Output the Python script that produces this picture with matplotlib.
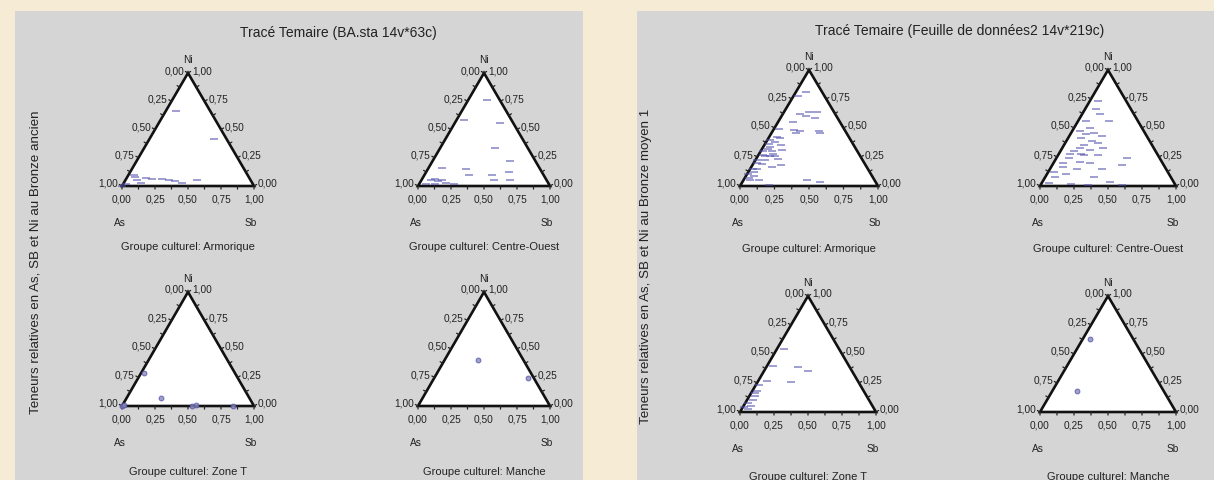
import matplotlib
matplotlib.use("Agg")
import matplotlib.pyplot as plt
from matplotlib.patches import Rectangle, Polygon
import numpy as np

plt.rcParams['font.family'] = ['Liberation Sans', 'DejaVu Sans']

# ---------------- data (Sb fraction, Ni fraction; As = 1 - Sb - Ni) ----------------
ba_armorique_sb = [0.08, 0.49, 0.04, 0.09, 0.13, 0.20, 0.27, 0.33, 0.44, 0.54, 0.02, 0.06, 0.15, 0.00, 0.38]
ba_armorique_ni = [0.66, 0.42, 0.10, 0.05, 0.03, 0.06, 0.06, 0.05, 0.03, 0.05, 0.02, 0.08, 0.07, 0.00, 0.04]

ba_centre_sb = [0.14, 0.055, 0.34, 0.41, 0.59, 0.10, 0.29, 0.34, 0.51, 0.63, 0.55, 0.67,
                0.07, 0.10, 0.13, 0.16, 0.20, 0.26, 0.05, 0.12]
ba_centre_ni = [0.76, 0.58, 0.56, 0.34, 0.22, 0.16, 0.15, 0.10, 0.10, 0.12, 0.05, 0.05,
                0.05, 0.06, 0.04, 0.05, 0.03, 0.02, 0.02, 0.02]

ba_zonet_sb = [0.00, 0.02, 0.26, 0.53, 0.56, 0.84, 0.01]
ba_zonet_ni = [0.00, 0.29, 0.07, 0.00, 0.005, 0.00, 0.01]

ba_manche_sb = [0.255, 0.71]
ba_manche_ni = [0.40, 0.245]

bm_armorique_sb = [0.075, 0.125, 0.18, 0.24, 0.11, 0.15, 0.20, 0.34, 0.035, 0.066, 0.12, 0.052,
                   0.15, 0.10, 0.05, 0.16, 0.065, 0.21, 0.05, 0.055, 0.05, 0.11, 0.21, 0.46,
                   0.56, 0.15, 0.35, 0.175, 0.18, 0.25, 0.03, 0.085, 0.02, 0.03, 0.04, 0.02,
                   0.03, 0.01, 0.02, 0.04, 0.01, 0.03, 0.08, 0.09, 0.07, 0.12, 0.02, 0.06]
bm_armorique_ni = [0.81, 0.62, 0.64, 0.64, 0.55, 0.48, 0.47, 0.47, 0.49, 0.38, 0.35, 0.336,
                   0.31, 0.28, 0.26, 0.235, 0.19, 0.18, 0.15, 0.09, 0.05, 0.05, 0.006, 0.05,
                   0.035, 0.16, 0.46, 0.46, 0.60, 0.59, 0.78, 0.41, 0.40, 0.36, 0.32, 0.30,
                   0.27, 0.22, 0.20, 0.12, 0.10, 0.07, 0.30, 0.26, 0.22, 0.26, 0.15, 0.42]

bm_centre_sb = [0.06, 0.08, 0.13, 0.12, 0.17, 0.24, 0.10, 0.19, 0.24, 0.13, 0.21, 0.10,
                0.19, 0.29, 0.09, 0.19, 0.51, 0.52, 0.085, 0.195, 0.38, 0.07, 0.36, 0.50,
                0.215, 0.35, 0.60, 0.06, 0.06, 0.23, 0.15, 0.16, 0.07, 0.04, 0.14, 0.27,
                0.05, 0.11, 0.30, 0.08]
bm_centre_ni = [0.735, 0.66, 0.62, 0.50, 0.46, 0.43, 0.41, 0.39, 0.37, 0.33, 0.31, 0.30,
                0.27, 0.27, 0.24, 0.21, 0.18, 0.24, 0.165, 0.15, 0.15, 0.08, 0.08, 0.035,
                0.02, 0.01, 0.01, 0.56, 0.47, 0.56, 0.35, 0.28, 0.20, 0.12, 0.10, 0.20,
                0.03, 0.45, 0.33, 0.28]

bm_zonet_sb = [0.05, 0.04, 0.23, 0.325, 0.06, 0.245, 0.025, 0.035, 0.04, 0.046, 0.055, 0.047,
               0.03, 0.02, 0.01]
bm_zonet_ni = [0.54, 0.40, 0.39, 0.35, 0.27, 0.26, 0.23, 0.18, 0.14, 0.10, 0.054, 0.026,
               0.16, 0.08, 0.04]

bm_manche_sb = [0.055, 0.18]
bm_manche_ni = [0.63, 0.18]

titles = ["Tracé Temaire (BA.sta 14v*63c)", "Tracé Temaire (Feuille de données2 14v*219c)"]
ylabels = ["Teneurs relatives en As, SB et Ni au Bronze ancien",
           "Teneurs relatives en As, SB et Ni au Bronze moyen 1"]
group_names = ["Groupe culturel: Armorique", "Groupe culturel: Centre-Ouest",
               "Groupe culturel: Zone T", "Groupe culturel: Manche"]
tick_labels = ["0,00", "0,25", "0,50", "0,75", "1,00"]
tick_values = [0.0, 0.25, 0.5, 0.75, 1.0]

# ---------------- layout (pixels) ----------------
W, H = 1214, 481
fig = plt.figure(figsize=(W / 100, H / 100), dpi=100)
fig.patch.set_facecolor('#f6ecd5')

def fx(x):
    return x / W

def fy(y):
    return 1 - y / H

PANEL_GRAY = '#d5d5d5'
bg = fig.add_axes([0, 0, 1, 1], zorder=-5)
bg.set_xlim(0, W)
bg.set_ylim(H, 0)
bg.axis('off')
bg.add_patch(Rectangle((15, 12), 583 - 15, H - 12, facecolor=PANEL_GRAY, edgecolor='none'))
bg.add_patch(Rectangle((637, 12), W - 637, H - 12, facecolor=PANEL_GRAY, edgecolor='none'))

TEXT = '#222222'
fig.text(fx(338), fy(33), titles[0], ha='center', va='center', fontsize=10, color=TEXT)
fig.text(fx(960), fy(31), titles[1], ha='center', va='center', fontsize=10, color=TEXT)
fig.text(fx(36), fy(262), ylabels[0], ha='center', va='center', rotation=90, fontsize=9.6,
         color=TEXT)
fig.text(fx(646), fy(266), ylabels[1], ha='center', va='center', rotation=90, fontsize=9.6,
         color=TEXT)

PX = 0.72  # points per pixel

MARK = '#5050ad'

def ternary(xl, xr, ya, yb, sb, ni, marker, group_label, label_y):
    ax = fig.add_axes([fx(xl), fy(yb), fx(xr) - fx(xl), (yb - ya) / H], zorder=2)
    ax.set_xlim(0, 1)
    ax.set_ylim(0, 1)
    ax.axis('off')
    tri = Polygon([(0, 0), (1, 0), (0.5, 1)], closed=True, facecolor='white',
                  edgecolor='#111111', linewidth=1.9, zorder=1, clip_on=False)
    ax.add_patch(tri)
    # minor ticks
    for t in np.arange(0, 1.0001, 0.125):
        ax.annotate('', xy=(t, 0), xytext=(0, -2.2), textcoords='offset points',
                    arrowprops=dict(arrowstyle='-', lw=0.9, color='#222222',
                                    shrinkA=0, shrinkB=0))
        ax.annotate('', xy=(t / 2, t), xytext=(-1.9, 1.1), textcoords='offset points',
                    arrowprops=dict(arrowstyle='-', lw=0.9, color='#222222',
                                    shrinkA=0, shrinkB=0))
        ax.annotate('', xy=(1 - t / 2, t), xytext=(1.9, 1.1), textcoords='offset points',
                    arrowprops=dict(arrowstyle='-', lw=0.9, color='#222222',
                                    shrinkA=0, shrinkB=0))
    sb = np.asarray(sb, float)
    ni = np.asarray(ni, float)
    xs = sb + ni / 2
    if marker == '_':
        ax.scatter(xs, ni, marker='_', s=30, linewidths=1.1, color=MARK, alpha=0.7,
                   zorder=3, clip_on=False)
    else:
        ax.scatter(xs, ni, marker='o', s=12, facecolors='#8a8ab8', edgecolors=MARK,
                   linewidths=0.7, alpha=0.8, zorder=3, clip_on=False)
    for v, lab in zip(tick_values, tick_labels):
        ni_v = 1 - v
        ax.annotate(lab, xy=(ni_v / 2, ni_v), xytext=(-4 * PX, 3 * PX),
                    textcoords='offset points', ha='right', va='center', fontsize=7.3,
                    color=TEXT)
    for v, lab in zip(tick_values, tick_labels):
        ax.annotate(lab, xy=(1 - v / 2, v), xytext=(4 * PX, 3 * PX),
                    textcoords='offset points', ha='left', va='center', fontsize=7.3,
                    color=TEXT)
    for v, lab in zip(tick_values, tick_labels):
        ax.annotate(lab, xy=(v, 0), xytext=(0, -13 * PX), textcoords='offset points',
                    ha='center', va='center', fontsize=7.3, color=TEXT)
    ax.annotate('Ni', xy=(0.5, 1), xytext=(0, 14 * PX), textcoords='offset points',
                ha='center', va='center', fontsize=7.3, color=TEXT)
    ax.annotate('As', xy=(0, 0), xytext=(-2 * PX, -36 * PX), textcoords='offset points',
                ha='center', va='center', fontsize=7.3, color=TEXT)
    ax.annotate('Sb', xy=(1, 0), xytext=(-3 * PX, -36 * PX), textcoords='offset points',
                ha='center', va='center', fontsize=7.3, color=TEXT)
    fig.text(fx((xl + xr) / 2), fy(label_y), group_label, ha='center', va='center',
             fontsize=8, color=TEXT)
    return ax

# left panel (Bronze ancien)
ternary(122, 254, 74, 187, ba_armorique_sb, ba_armorique_ni, '_', group_names[0], 247)
ternary(418, 550, 74, 187, ba_centre_sb, ba_centre_ni, '_', group_names[1], 247)
ternary(122, 254, 293, 407, ba_zonet_sb, ba_zonet_ni, 'o', group_names[2], 472)
ternary(418, 550, 293, 407, ba_manche_sb, ba_manche_ni, 'o', group_names[3], 472)

# right panel (Bronze moyen 1)
ternary(740, 878, 71, 187, bm_armorique_sb, bm_armorique_ni, '_', group_names[0], 249)
ternary(1040, 1176, 71, 187, bm_centre_sb, bm_centre_ni, '_', group_names[1], 249)
ternary(740, 876, 297, 413, bm_zonet_sb, bm_zonet_ni, '_', group_names[2], 477)
ternary(1040, 1176, 297, 413, bm_manche_sb, bm_manche_ni, 'o', group_names[3], 477)

fig.savefig('out.png', dpi=100, facecolor=fig.get_facecolor())
